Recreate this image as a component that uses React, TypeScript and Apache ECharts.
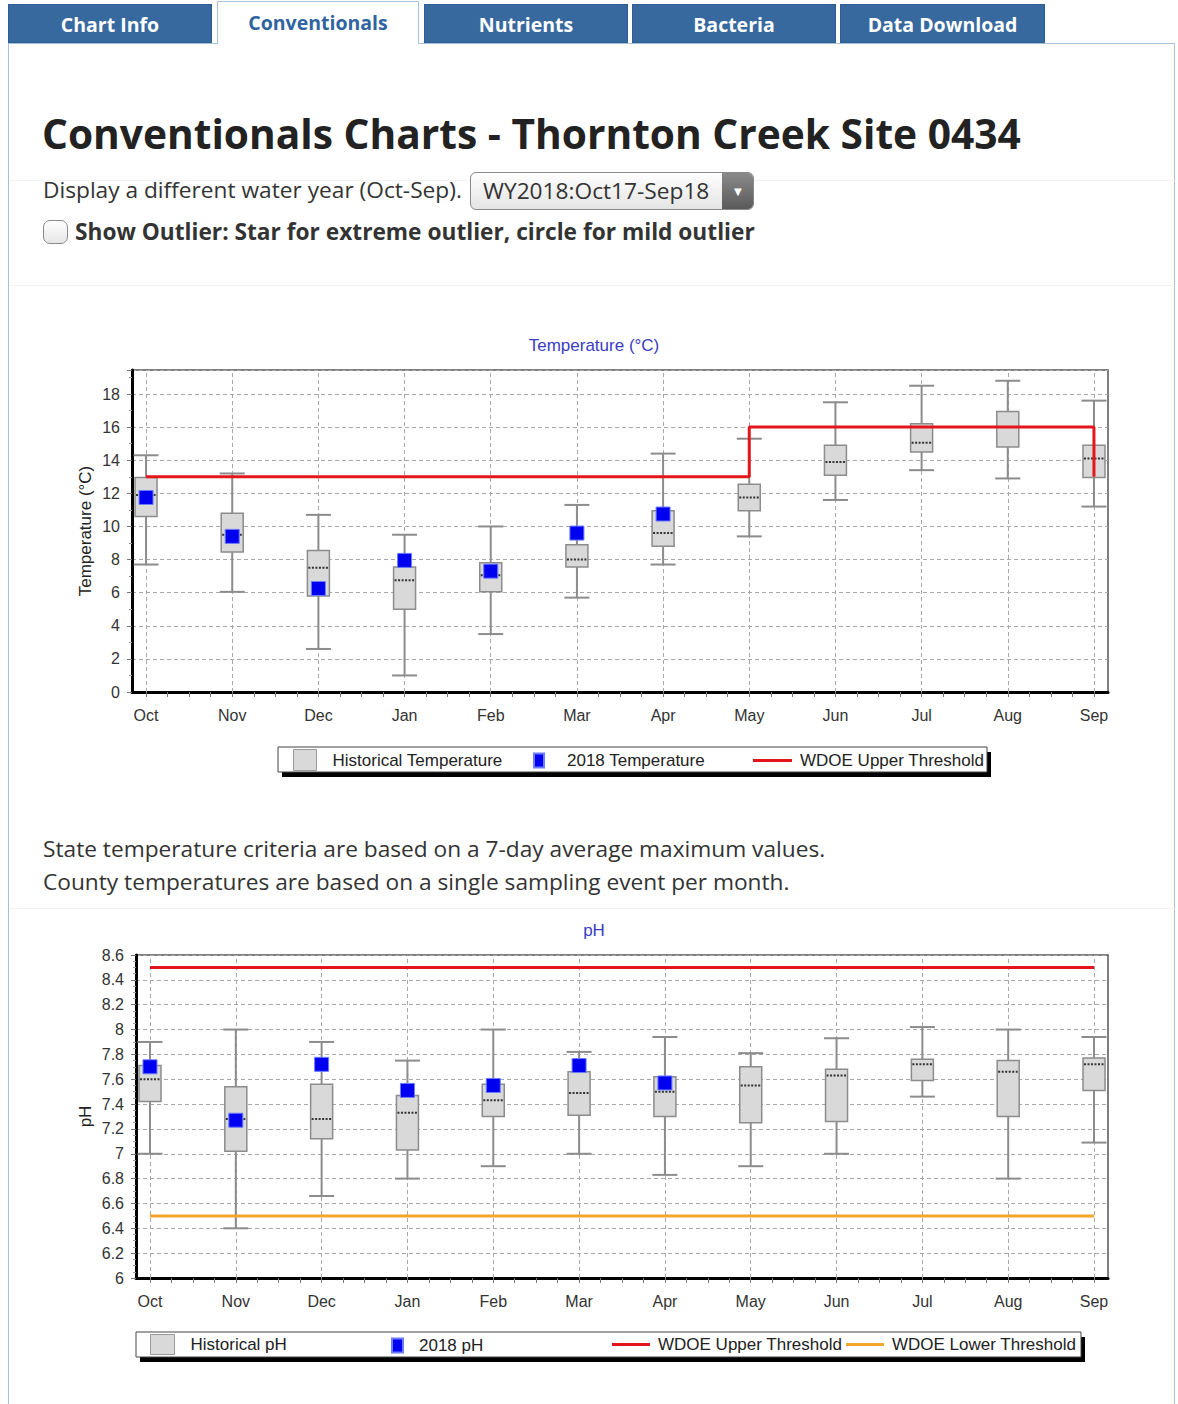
import React, { useEffect, useRef } from "react";
import * as echarts from "echarts";

const MONTHS = ["Oct", "Nov", "Dec", "Jan", "Feb", "Mar", "Apr", "May", "Jun", "Jul", "Aug", "Sep"];

// Historical temperature box statistics (°C)
const TEMP_LOW = [7.7, 6.05, 2.6, 1.0, 3.5, 5.7, 7.7, 9.4, 11.6, 13.4, 12.9, 11.2];
const TEMP_Q1 = [10.6, 8.45, 5.8, 5.0, 6.05, 7.55, 8.8, 10.95, 13.1, 14.5, 14.8, 12.95];
const TEMP_MED = [11.9, 9.5, 7.5, 6.75, 7.05, 8.0, 9.6, 11.75, 13.9, 15.05, 16.0, 14.1];
const TEMP_Q3 = [12.95, 10.8, 8.55, 7.55, 7.8, 8.9, 10.95, 12.55, 14.9, 16.2, 16.95, 14.9];
const TEMP_HIGH = [14.3, 13.2, 10.7, 9.5, 10.0, 11.3, 14.4, 15.3, 17.5, 18.5, 18.8, 17.6];
// 2018 temperature (Oct..Apr)
const TEMP_2018 = [11.75, 9.4, 6.25, 7.95, 7.3, 9.6, 10.75];
// WDOE upper threshold (step line)
const TEMP_THRESHOLD_X = [0, 7, 7, 11, 11];
const TEMP_THRESHOLD_Y = [13, 13, 16, 16, 13];

// Historical pH box statistics
const PH_LOW = [7.0, 6.4, 6.66, 6.8, 6.9, 7.0, 6.83, 6.9, 7.0, 7.46, 6.8, 7.09];
const PH_Q1 = [7.42, 7.02, 7.12, 7.03, 7.3, 7.31, 7.3, 7.25, 7.26, 7.59, 7.3, 7.51];
const PH_MED = [7.6, 7.28, 7.28, 7.33, 7.43, 7.49, 7.5, 7.55, 7.63, 7.72, 7.66, 7.72];
const PH_Q3 = [7.71, 7.54, 7.56, 7.47, 7.56, 7.66, 7.62, 7.7, 7.68, 7.76, 7.75, 7.77];
const PH_HIGH = [7.9, 8.0, 7.9, 7.75, 8.0, 7.82, 7.94, 7.81, 7.93, 8.02, 8.0, 7.94];
// 2018 pH (Oct..Apr)
const PH_2018 = [7.7, 7.27, 7.72, 7.51, 7.55, 7.71, 7.57];
const PH_UPPER = [8.5, 8.5];
const PH_LOWER = [6.5, 6.5];

const CHART_FONT = "Arial, 'Liberation Sans', sans-serif";
const X_MIN = -0.163;
const X_MAX = 11.163;
const MONTH_POS = MONTHS.map((_, i) => i);
const QUARTER_POS: number[] = [];
for (let i = 0; i <= 44; i++) QUARTER_POS.push(i / 4);

const RED = "#e3161c";
const ORANGE = "#f2a62a";
const BLUE = "#0000f0";

function boxRender(params: any, api: any) {
  const x = api.value(0);
  const low = api.coord([x, api.value(1)]);
  const q1 = api.coord([x, api.value(2)]);
  const med = api.coord([x, api.value(3)]);
  const q3 = api.coord([x, api.value(4)]);
  const high = api.coord([x, api.value(5)]);
  const cx = low[0];
  const bw = 11;
  const cw = 12.5;
  const grey = "#8c8c8c";
  return {
    type: "group",
    children: [
      { type: "line", shape: { x1: cx, y1: high[1], x2: cx, y2: q3[1] }, style: { stroke: grey, lineWidth: 2 } },
      { type: "line", shape: { x1: cx, y1: q1[1], x2: cx, y2: low[1] }, style: { stroke: grey, lineWidth: 2 } },
      { type: "line", shape: { x1: cx - cw, y1: high[1], x2: cx + cw, y2: high[1] }, style: { stroke: grey, lineWidth: 2 } },
      { type: "line", shape: { x1: cx - cw, y1: low[1], x2: cx + cw, y2: low[1] }, style: { stroke: grey, lineWidth: 2 } },
      {
        type: "rect",
        shape: { x: cx - bw, y: q3[1], width: 2 * bw, height: q1[1] - q3[1] },
        style: { fill: "#d9d9d9", stroke: grey, lineWidth: 1.5 },
      },
      {
        type: "line",
        shape: { x1: cx - bw + 1, y1: med[1], x2: cx + bw - 1, y2: med[1] },
        style: { stroke: "#333", lineWidth: 2, lineDash: [2, 1.5] },
      },
    ],
  };
}

function legendItem(name: string, left: number, top: number, w: number, h: number, pad: number, icon: string, itemStyle: any) {
  return {
    data: [{ name, icon, itemStyle }],
    left,
    top,
    padding: 0,
    itemWidth: w,
    itemHeight: h,
    selectedMode: false,
    textStyle: { fontFamily: CHART_FONT, fontSize: 17, color: "#222", padding: [0, 0, 0, pad] },
  };
}

function baseOption(opts: {
  title: string;
  gridLeft: number;
  gridWidth: number;
  gridHeight: number;
  yMin: number;
  yMax: number;
  yInterval: number;
  yMinorSplit: number;
  yName: string;
  yNameGap: number;
  showMax: boolean;
  legendBox: { x: number; y: number; w: number; h: number };
}) {
  const lb = opts.legendBox;
  return {
    animation: false,
    title: {
      text: opts.title,
      left: 594,
      top: 17,
      padding: 0,
      textAlign: "center",
      textStyle: { fontFamily: CHART_FONT, fontSize: 17, fontWeight: "normal", color: "#3b3bc4" },
    },
    grid: {
      left: opts.gridLeft,
      top: 50,
      width: opts.gridWidth,
      height: opts.gridHeight,
      show: true,
      borderColor: "#555",
      borderWidth: 1.5,
      backgroundColor: "transparent",
    },
    xAxis: {
      type: "value",
      min: X_MIN,
      max: X_MAX,
      axisLine: { show: true, onZero: false, lineStyle: { color: "#000", width: 3 } },
      axisTick: { show: true, customValues: QUARTER_POS, length: 5, lineStyle: { color: "#777" } },
      axisLabel: {
        customValues: MONTH_POS,
        formatter: (v: number) => MONTHS[Math.round(v)] ?? "",
        margin: 15,
        fontFamily: CHART_FONT,
        fontSize: 16,
        color: "#333",
      },
      splitLine: { show: false },
    },
    yAxis: {
      type: "value",
      min: opts.yMin,
      max: opts.yMax,
      interval: opts.yInterval,
      name: opts.yName,
      nameLocation: "middle",
      nameGap: opts.yNameGap,
      nameMoveOverlap: false,
      nameTextStyle: { fontFamily: CHART_FONT, fontSize: 17, color: "#222" },
      axisLine: { show: true, onZero: false, lineStyle: { color: "#000", width: 3 } },
      axisTick: { show: true, length: 5, lineStyle: { color: "#777" } },
      minorTick: { show: true, splitNumber: opts.yMinorSplit, length: 3, lineStyle: { color: "#999" } },
      axisLabel: {
        showMaxLabel: opts.showMax,
        margin: 12,
        fontFamily: CHART_FONT,
        fontSize: 16,
        color: "#333",
      },
      splitLine: { show: true, lineStyle: { color: "#a8a8a8", type: [4, 3], width: 1 } },
    },
    graphic: [
      { type: "rect", z: 1, shape: { x: lb.x + 4, y: lb.y + 5, width: lb.w, height: lb.h }, style: { fill: "#000" } },
      { type: "rect", z: 1, shape: { x: lb.x, y: lb.y, width: lb.w, height: lb.h }, style: { fill: "#fff", stroke: "#444", lineWidth: 1 } },
    ],
  };
}

function gridLinesSeries() {
  return {
    type: "line",
    name: "__grid",
    data: [],
    silent: true,
    markLine: {
      silent: true,
      symbol: "none",
      z: 1,
      label: { show: false },
      lineStyle: { color: "#a8a8a8", type: [4, 3], width: 1 },
      data: MONTH_POS.map((m) => ({ xAxis: m })),
    },
  };
}

const GREY_ICON = { color: "#d9d9d9", borderColor: "#999", borderWidth: 1 };

function tempOption() {
  const opt: any = baseOption({
    title: "Temperature (°C)",
    gridLeft: 132,
    gridWidth: 976,
    gridHeight: 322,
    yMin: 0,
    yMax: 19.45,
    yInterval: 2,
    yMinorSplit: 2,
    yName: "Temperature (°C)",
    yNameGap: 38,
    showMax: false,
    legendBox: { x: 278, y: 427, w: 709, h: 25 },
  });
  opt.legend = [
    legendItem("Historical Temperature", 293, 429, 23, 21, 11, "rect", GREY_ICON),
    legendItem("2018 Temperature", 533, 432, 10, 14, 18, "rect", { color: BLUE }),
    legendItem("WDOE Upper Threshold", 753, 432, 39, 3, 3, "rect", { color: RED }),
  ];
  opt.series = [
    gridLinesSeries(),
    {
      type: "custom",
      name: "Historical Temperature",
      z: 3,
      itemStyle: { color: "#d9d9d9" },
      renderItem: boxRender,
      encode: { x: 0, y: [1, 2, 3, 4, 5] },
      data: MONTHS.map((_, i) => [i, TEMP_LOW[i], TEMP_Q1[i], TEMP_MED[i], TEMP_Q3[i], TEMP_HIGH[i]]),
    },
    {
      type: "line",
      name: "WDOE Upper Threshold",
      z: 4,
      symbol: "none",
      color: RED,
      lineStyle: { color: RED, width: 3 },
      data: TEMP_THRESHOLD_X.map((x, i) => [x, TEMP_THRESHOLD_Y[i]]),
    },
    {
      type: "scatter",
      name: "2018 Temperature",
      z: 5,
      symbol: "rect",
      symbolSize: 14,
      itemStyle: { color: BLUE, borderColor: "#6b7cff", borderWidth: 1, opacity: 1 },
      data: TEMP_2018.map((v, i) => [i, v]),
    },
  ];
  return opt;
}

function phOption() {
  const opt: any = baseOption({
    title: "pH",
    gridLeft: 136,
    gridWidth: 972,
    gridHeight: 323,
    yMin: 6,
    yMax: 8.6,
    yInterval: 0.2,
    yMinorSplit: 4,
    yName: "pH",
    yNameGap: 42,
    showMax: true,
    legendBox: { x: 136, y: 427, w: 945, h: 25 },
  });
  opt.legend = [
    legendItem("Historical pH", 150, 429, 24, 20, 11, "rect", GREY_ICON),
    legendItem("2018 pH", 391, 432, 11, 14, 11, "rect", { color: BLUE }),
    legendItem("WDOE Upper Threshold", 612, 431, 38, 3, 3, "rect", { color: RED }),
    legendItem("WDOE Lower Threshold", 846, 431, 38, 3, 3, "rect", { color: ORANGE }),
  ];
  opt.series = [
    gridLinesSeries(),
    {
      type: "custom",
      name: "Historical pH",
      z: 3,
      itemStyle: { color: "#d9d9d9" },
      renderItem: boxRender,
      encode: { x: 0, y: [1, 2, 3, 4, 5] },
      data: MONTHS.map((_, i) => [i, PH_LOW[i], PH_Q1[i], PH_MED[i], PH_Q3[i], PH_HIGH[i]]),
    },
    {
      type: "line",
      name: "WDOE Upper Threshold",
      z: 4,
      symbol: "none",
      color: RED,
      lineStyle: { color: RED, width: 3 },
      data: [[0, PH_UPPER[0]], [11, PH_UPPER[1]]],
    },
    {
      type: "line",
      name: "WDOE Lower Threshold",
      z: 4,
      symbol: "none",
      color: ORANGE,
      lineStyle: { color: ORANGE, width: 3 },
      data: [[0, PH_LOWER[0]], [11, PH_LOWER[1]]],
    },
    {
      type: "scatter",
      name: "2018 pH",
      z: 5,
      symbol: "rect",
      symbolSize: 14,
      itemStyle: { color: BLUE, borderColor: "#6b7cff", borderWidth: 1, opacity: 1 },
      data: PH_2018.map((v, i) => [i, v]),
    },
  ];
  return opt;
}

const TABS = ["Chart Info", "Conventionals", "Nutrients", "Bacteria", "Data Download"];
const TAB_LEFT = [8, 217, 424, 632, 840];
const TAB_WIDTH = [204, 202, 204, 204, 205];

export default function App() {
  const r1 = useRef<HTMLDivElement>(null);
  const r2 = useRef<HTMLDivElement>(null);

  useEffect(() => {
    const c1 = echarts.init(r1.current!, null, { renderer: "svg" });
    c1.setOption(tempOption());
    const c2 = echarts.init(r2.current!, null, { renderer: "svg" });
    c2.setOption(phOption());
    return () => {
      c1.dispose();
      c2.dispose();
    };
  }, []);

  const font = "'Open Sans', 'Noto Sans', sans-serif";
  const abs = (left: number, top: number, extra: React.CSSProperties = {}): React.CSSProperties => ({
    position: "absolute",
    left,
    top,
    whiteSpace: "nowrap",
    ...extra,
  });
  const bodySize = 22.7;

  return (
    <div
      style={{
        position: "absolute",
        left: 0,
        top: 0,
        width: 1178,
        height: 1404,
        background: "#fff",
        overflow: "hidden",
        fontFamily: font,
        color: "#333",
      }}
    >
      {/* panel */}
      <div
        style={abs(8, 43, {
          width: 1167,
          height: 1380,
          border: "1px solid #a7c2de",
          boxSizing: "border-box",
        })}
      />
      {/* faint separators */}
      <div style={abs(10, 180, { width: 1165, height: 1, background: "#f3f3f3" })} />
      <div style={abs(10, 285, { width: 1165, height: 1, background: "#f3f3f3" })} />
      <div style={abs(10, 908, { width: 1165, height: 1, background: "#f3f3f3" })} />

      {/* tabs */}
      {TABS.map((t, i) => {
        const active = i === 1;
        return (
          <div
            key={t}
            style={abs(TAB_LEFT[i], active ? 1 : 4, {
              width: TAB_WIDTH[i],
              height: active ? 43 : 39,
              boxSizing: "border-box",
              background: active ? "#fff" : "#37699f",
              border: active ? "1px solid #a7c2de" : "1px solid #2d5d91",
              borderBottom: active ? "none" : "1px solid #2d5d91",
              color: active ? "#2f64a0" : "#fff",
              fontWeight: 700,
              fontSize: 19.5,
              textAlign: "center",
              lineHeight: active ? "42px" : "40px",
            })}
          >
            {t}
          </div>
        );
      })}

      {/* heading */}
      <div style={abs(42, 111, { fontSize: 40.7, fontWeight: 700, color: "#222", lineHeight: "44px" })}>
        Conventionals Charts - Thornton Creek Site 0434
      </div>

      {/* water year select */}
      <div style={abs(43, 176, { fontSize: bodySize, lineHeight: "28px", color: "#333" })}>
        Display a different water year (Oct-Sep).
      </div>
      <div
        style={abs(470, 172, {
          width: 284,
          height: 38,
          boxSizing: "border-box",
          border: "1px solid #8a8a8a",
          borderRadius: 6,
          background: "linear-gradient(#ffffff, #e4e4e4)",
          overflow: "hidden",
        })}
      >
        <div style={abs(12, 4, { fontSize: bodySize, lineHeight: "28px", color: "#333" })}>WY2018:Oct17-Sep18</div>
        <div
          style={abs(251, 0, {
            width: 32,
            height: 36,
            background: "linear-gradient(#8a8a8a, #5a5a5a)",
            color: "#fff",
            fontSize: 13,
            textAlign: "center",
            lineHeight: "36px",
          })}
        >
          ▼
        </div>
      </div>

      {/* outlier checkbox */}
      <div
        style={abs(43, 220, {
          width: 25,
          height: 24,
          boxSizing: "border-box",
          border: "1.5px solid #8a8a8a",
          borderRadius: 7,
          background: "linear-gradient(#ffffff, #e6e6e6)",
        })}
      />
      <div style={abs(75, 218, { fontSize: bodySize, fontWeight: 700, lineHeight: "28px", color: "#333" })}>
        Show Outlier: Star for extreme outlier, circle for mild outlier
      </div>

      {/* temperature chart */}
      <div ref={r1} style={abs(0, 320, { width: 1178, height: 470 })} />

      {/* notes */}
      <div style={abs(43, 835, { fontSize: bodySize, lineHeight: "28px", color: "#333" })}>
        State temperature criteria are based on a 7-day average maximum values.
      </div>
      <div style={abs(43, 868, { fontSize: bodySize, lineHeight: "28px", color: "#333" })}>
        County temperatures are based on a single sampling event per month.
      </div>

      {/* pH chart */}
      <div ref={r2} style={abs(0, 905, { width: 1178, height: 470 })} />
    </div>
  );
}
